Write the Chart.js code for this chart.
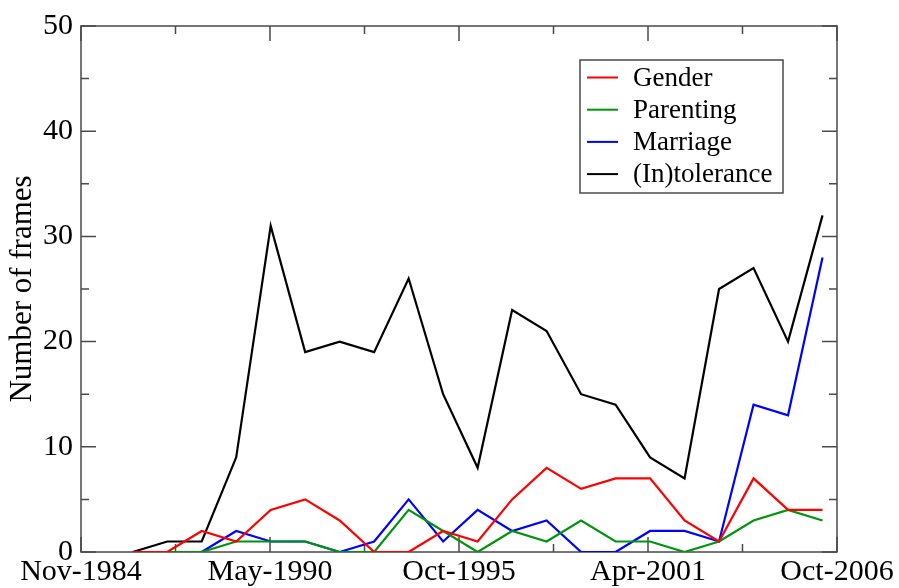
<!DOCTYPE html>
<html>
<head>
<meta charset="utf-8">
<script src="https://cdn.jsdelivr.net/npm/chart.js@4.4.1/dist/chart.umd.min.js"></script>
<style>
  html, body { margin: 0; padding: 0; background: #fff; }
</style>
</head>
<body>
<canvas id="chart" width="899" height="588"></canvas>
<script>
// decimal year of each yearly count
const frameYears = [1986.35, 1987.35, 1988.35, 1989.35, 1990.35, 1991.35, 1992.35,
  1993.35, 1994.35, 1995.35, 1996.35, 1997.35, 1998.35, 1999.35, 2000.35,
  2001.35, 2002.35, 2003.35, 2004.35, 2005.35, 2006.35];

const gender      = [0, 0, 2, 1, 4, 5, 3, 0, 0, 2, 1, 5, 8, 6, 7, 7, 3, 1, 7, 4, 4];
const parenting   = [0, 0, 0, 1, 1, 1, 0, 0, 4, 2, 0, 2, 1, 3, 1, 1, 0, 1, 3, 4, 3];
const marriage    = [0, 0, 0, 2, 1, 1, 0, 1, 5, 1, 4, 2, 3, 0, 0, 2, 2, 1, 14, 13, 28];
const intolerance = [0, 1, 1, 9, 31, 19, 20, 19, 26, 15, 8, 23, 21, 15, 14, 9, 7, 25, 27, 20, 32];

const seriesNames = ['Gender', 'Parenting', 'Marriage', '(In)tolerance'];
const seriesColors = ['#ff0000', '#00930e', '#0000ff', '#000000'];

// x axis: Nov-1984 .. Oct-2006, major ticks every ~5.48 years
const xMin = 1984.85;
const xMax = 2006.77;
const xTickLabels = ['Nov-1984', 'May-1990', 'Oct-1995', 'Apr-2001', 'Oct-2006'];
const yMin = 0, yMax = 50, yStep = 10;

const FONT = "'Liberation Serif', 'Times New Roman', serif";
const FRAME = '#4a4a4a';

function pts(values) {
  return values.map((v, i) => ({ x: frameYears[i], y: v }));
}

const allSeries = [gender, parenting, marriage, intolerance];

// frame with inward ticks on all four sides, plus the boxed legend
const framePlugin = {
  id: 'frame',
  beforeDatasetsDraw(chart) {
    const { ctx, chartArea: a, scales: { x, y } } = chart;
    ctx.save();
    ctx.strokeStyle = FRAME;
    ctx.lineWidth = 1.5;
    ctx.strokeRect(a.left, a.top, a.right - a.left, a.bottom - a.top);

    const xStep = (xMax - xMin) / (xTickLabels.length - 1);
    ctx.beginPath();
    for (let k = 0; k < xTickLabels.length * 2 - 1; k++) {
      const px = x.getPixelForValue(xMin + k * xStep / 2);
      const len = k % 2 === 0 ? 15 : 8;
      ctx.moveTo(px, a.bottom); ctx.lineTo(px, a.bottom - len);
      ctx.moveTo(px, a.top); ctx.lineTo(px, a.top + len);
    }
    for (let v = yMin; v <= yMax; v += yStep / 2) {
      const py = y.getPixelForValue(v);
      const len = v % yStep === 0 ? 15 : 8;
      ctx.moveTo(a.left, py); ctx.lineTo(a.left + len, py);
      ctx.moveTo(a.right, py); ctx.lineTo(a.right - len, py);
    }
    ctx.stroke();
    ctx.restore();
  },
  afterDatasetsDraw(chart) {
    const { ctx } = chart;
    ctx.save();
    // legend
    const bx = 580, by = 60, bw = 203, bh = 133;
    ctx.fillStyle = '#fff';
    ctx.fillRect(bx, by, bw, bh);
    ctx.strokeStyle = FRAME;
    ctx.lineWidth = 1.5;
    ctx.strokeRect(bx, by, bw, bh);
    ctx.font = '27px ' + FONT;
    ctx.textBaseline = 'middle';
    ctx.textAlign = 'left';
    chart.data.datasets.forEach((ds, i) => {
      const ry = 77.5 + i * 32.2;
      ctx.strokeStyle = ds.borderColor;
      ctx.lineWidth = 2;
      ctx.beginPath();
      ctx.moveTo(587, ry); ctx.lineTo(618, ry);
      ctx.stroke();
      ctx.fillStyle = '#000';
      ctx.fillText(ds.label, 633, ry + 1);
    });
    ctx.restore();
  }
};

new Chart(document.getElementById('chart'), {
  type: 'line',
  data: {
    datasets: allSeries.map((vals, i) => ({
      label: seriesNames[i],
      data: pts(vals),
      borderColor: seriesColors[i],
      backgroundColor: seriesColors[i],
      borderWidth: 2.2,
      pointRadius: 0,
      tension: 0,
      fill: false
    }))
  },
  options: {
    responsive: false,
    animation: false,
    layout: { padding: { top: 23, right: 62, left: 0, bottom: 0 } },
    plugins: {
      legend: { display: false },
      tooltip: { enabled: false }
    },
    scales: {
      x: {
        type: 'linear',
        min: xMin,
        max: xMax,
        border: { display: false },
        grid: { display: false, drawTicks: false },
        afterBuildTicks(scale) {
          const step = (xMax - xMin) / (xTickLabels.length - 1);
          scale.ticks = xTickLabels.map((_, i) => ({ value: xMin + i * step }));
        },
        afterFit(scale) { scale.height = 36; },
        ticks: {
          autoSkip: false,
          maxRotation: 0,
          padding: 2,
          color: '#000',
          font: { family: FONT, size: 30, lineHeight: 1.2 },
          callback: (v, i) => xTickLabels[i]
        }
      },
      y: {
        min: yMin,
        max: yMax,
        border: { display: false },
        grid: { display: false, drawTicks: false },
        afterFit(scale) { scale.width = 81; },
        ticks: {
          stepSize: yStep,
          padding: 8,
          color: '#000',
          font: { family: FONT, size: 30 }
        },
        title: {
          display: true,
          text: 'Number of frames',
          color: '#000',
          padding: { top: 7, bottom: 0 },
          font: { family: FONT, size: 31, lineHeight: 1 }
        }
      }
    }
  },
  plugins: [framePlugin]
});
</script>
</body>
</html>
